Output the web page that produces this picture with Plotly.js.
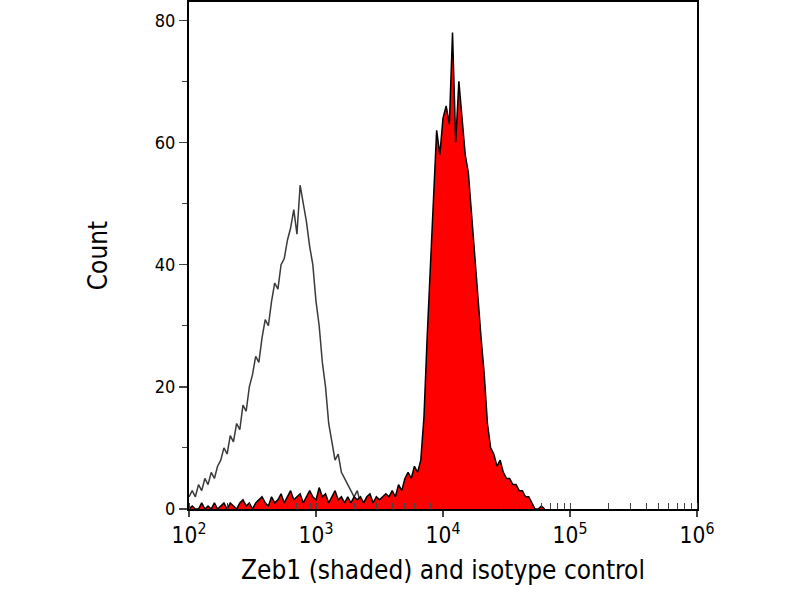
<!DOCTYPE html>
<html>
<head>
<meta charset="utf-8">
<script src="https://cdn.plot.ly/plotly-3.0.1.min.js"></script>
<style>body{margin:0;background:#fff}#plot{width:800px;height:600px}</style>
</head>
<body>
<div id="plot"></div>
<script>
// bins are log10 positions, 0.025 decade apart
var isoStart = 2.0;
var isoCounts = [2,3,2,4,3,5,4,6,5,7,
  8,10,9,12,11,14,13,17,16,20,
  22,25,24,28,31,30,34,37,36,40,
  41,44,46,49,45,53,50,47,43,40,
  34,30,24,20,14,11,8,9,6,5,
  4,3,2,3,1,1,0.5,0.5,0,0,0];

var zebStart = 2.0;
var zebCounts = [0,0.5,0,0,1,0,0.5,0,1,0,
  0.5,1,0,1,0.5,0,1,1.5,0.5,1,
  0,1,1.5,2,1,0.5,2,1,1.5,2.5,
  1,2,3,1.5,2,2.5,1,2,3,2,
  1.5,3.5,2,2.5,1,2,3,1.5,2,1,
  2,1,2,1.5,2,1,2,2.5,1,2,
  1.5,2,2.5,
  2,3,2,4,3,5,6,5,7,6,
  8,15,28,40,52,62,58,64,
  66,63,78,60,70,64,58,55,
  48,42,35,28,22,14,10,9,7,8,
  6,5,5,4,4,3,3,2,2,1,0,
  0,0.5,0];

function bins(start, n){
  var x = [];
  for (var i = 0; i < n; i++) x.push(Math.pow(10, start + i*0.025));
  return x;
}

var zeb = {
  x: bins(zebStart, zebCounts.length), y: zebCounts,
  type: 'scatter', mode: 'lines', fill: 'tozeroy',
  fillcolor: '#ff0000', line: {color: '#000', width: 1.5}
};
var iso = {
  x: bins(isoStart, isoCounts.length), y: isoCounts,
  type: 'scatter', mode: 'lines',
  line: {color: '#3a3a3a', width: 1.5}
};

var layout = {
  width: 800, height: 600,
  margin: {l: 189, r: 103, t: 2, b: 91},
  showlegend: false,
  paper_bgcolor: '#fff', plot_bgcolor: '#fff',
  font: {family: 'DejaVu Sans Condensed, DejaVu Sans', size: 18, color: '#000'},
  xaxis: {
    type: 'log', range: [2, 6], dtick: 1, exponentformat: 'power',
    showgrid: false, zeroline: false,
    showline: true, mirror: true, linecolor: '#000', linewidth: 2,
    ticks: 'outside', ticklen: 6, tickwidth: 1.5,
    minor: {ticks: 'inside', ticklen: 6, tickwidth: 1, showgrid: false},
    title: {text: 'Zeb1 (shaded) and isotype control', font: {size: 26}, standoff: 14}
  },
  yaxis: {
    range: [0, 83], dtick: 20,
    showgrid: false, zeroline: false,
    showline: true, mirror: true, linecolor: '#000', linewidth: 2,
    ticks: 'outside', ticklen: 8, tickwidth: 1.5,
    minor: {dtick: 10, ticks: 'outside', ticklen: 5, tickwidth: 1, showgrid: false},
    title: {text: 'Count', font: {size: 26}, standoff: 40}
  }
};

Plotly.newPlot('plot', [iso, zeb], layout, {staticPlot: true});
</script>
</body>
</html>
